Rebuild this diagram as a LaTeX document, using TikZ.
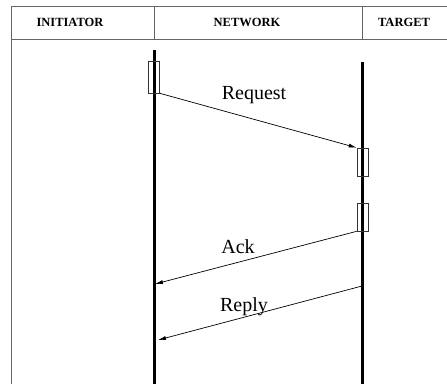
\documentclass[tikz,border=0pt]{standalone}
\usepackage{fontspec}
\setmainfont{Liberation Serif}
\usetikzlibrary{arrows.meta}
\begin{document}
\begin{tikzpicture}[x=1pt,y=1pt,
  frameline/.style={draw=black!60,line width=1pt},
  lifeline/.style={draw=black,line width=3pt},
  actbox/.style={draw=black!80,fill=white,line width=0.6pt,inner sep=0pt,minimum width=11pt},
  msg/.style={draw=black,line width=0.7pt,-{Latex[length=8pt,width=4pt]}},
  hdr/.style={font=\fontsize{12.5}{14}\selectfont\bfseries},
  lbl/.style={font=\fontsize{20}{22}\selectfont}]
\useasboundingbox (0,0) rectangle (447,-384);
% frame
\draw[frameline] (11,-384) -- (11,-6) -- (447,-6);
\draw[frameline] (11,-39) -- (447,-39);
\draw[frameline] (154,-6) -- (154,-39);
\draw[frameline] (362,-6) -- (362,-39);
% headers
\node[hdr] (hi) at (70,-22) {INITIATOR};
\node[hdr] (hn) at (247,-22) {NETWORK};
\node[hdr] (ht) at (404,-22) {TARGET};
% lifelines
\coordinate (itop) at (154,-50);
\coordinate (ibot) at (154,-384);
\coordinate (ttop) at (362,-62);
\coordinate (tbot) at (362,-384);
\draw[lifeline] (itop) -- (ibot);
\draw[lifeline] (ttop) -- (tbot);
% activation boxes
\node[actbox,minimum height=32pt] (ib) at (154,-77) {};
\draw[lifeline] (154,-61) -- (154,-93);
\node[actbox,fill=none,minimum height=32pt] at (154,-77) {};
\node[actbox,minimum height=28pt] (tb1) at (362.5,-162) {};
\node[actbox,minimum height=28pt] (tb2) at (362.5,-217) {};
\draw[lifeline] (362,-148) -- (362,-176);
\draw[lifeline] (362,-203) -- (362,-231);
\node[actbox,fill=none,minimum height=28pt] at (362.5,-162) {};
\node[actbox,fill=none,minimum height=28pt] at (362.5,-217) {};
% message end points
\coordinate (ackend) at (155,-284);
\coordinate (repstart) at (362,-286);
\coordinate (repend) at (158,-340);
% messages
\draw[msg] (ib.south east) -- (tb1.north west);
\draw[msg] (tb2.south west) -- (ackend);
\draw[msg] (repstart) -- (repend);
% labels
\node[lbl] (lreq) at (254,-95.5) {Request};
\node[lbl] (lack) at (238,-247) {Ack};
\node[lbl] (lrep) at (244,-307) {Reply};
\end{tikzpicture}
\end{document}
